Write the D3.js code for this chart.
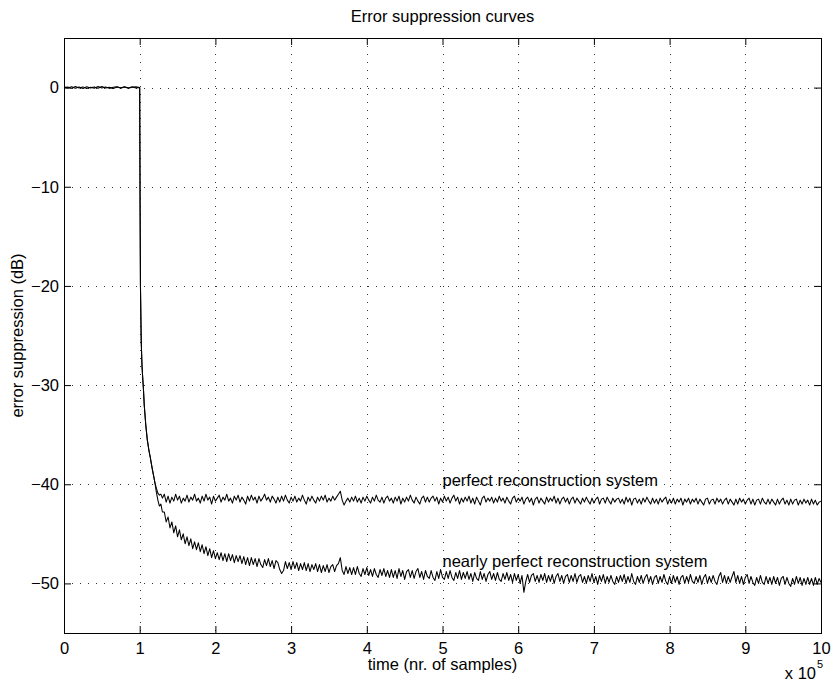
<!DOCTYPE html>
<html><head><meta charset="utf-8">
<script src="https://cdn.jsdelivr.net/npm/d3@7"></script>
<style>
body{margin:0;background:#fff}
text{font-family:"Liberation Sans",Arial,Helvetica,sans-serif;fill:#000}
</style>
</head><body>
<svg id="chart" width="832" height="685"></svg>
<script>
// ---- data (time in units of 1e5 samples, values in dB) ----
const xTicks = [0,1,2,3,4,5,6,7,8,9,10];
const yTicks = [0,-10,-20,-30,-40,-50];
const titleText = "Error suppression curves";
const xLabelText = "time (nr. of samples)";
const yLabelText = "error suppression (dB)";
const seriesNames = ["perfect reconstruction system","nearly perfect reconstruction system"];

const time = [
0,0.05,0.1,0.15,0.2,0.25,0.3,0.35,0.4,0.45,0.5,0.55,0.6,0.65,0.7,0.75,0.8,0.85,0.9,0.95,1.0,
1.005,1.01,1.02,1.03,1.04,1.05,1.06,1.08,1.1,1.12,1.14,1.16,1.18,1.2,1.22,1.24,1.26,1.28,1.3,
1.325,1.35,1.375,1.4,1.425,1.45,1.475,1.5,1.525,1.55,1.575,1.6,1.625,1.65,1.675,1.7,1.725,1.75,1.775,1.8,
1.825,1.85,1.875,1.9,1.925,1.95,1.975,2,2.025,2.05,2.075,2.1,2.125,2.15,2.175,2.2,2.225,2.25,2.275,2.3,
2.325,2.35,2.375,2.4,2.425,2.45,2.475,2.5,2.525,2.55,2.575,2.6,2.625,2.65,2.675,2.7,2.725,2.75,2.775,2.8,
2.825,2.85,2.875,2.9,2.925,2.95,2.975,3,3.025,3.05,3.075,3.1,3.125,3.15,3.175,3.2,3.225,3.25,3.275,3.3,
3.325,3.35,3.375,3.4,3.425,3.45,3.475,3.5,3.525,3.55,3.575,3.6,3.625,3.65,3.675,3.7,3.725,3.75,3.775,3.8,
3.825,3.85,3.875,3.9,3.925,3.95,3.975,4,4.025,4.05,4.075,4.1,4.125,4.15,4.175,4.2,4.225,4.25,4.275,4.3,
4.325,4.35,4.375,4.4,4.425,4.45,4.475,4.5,4.525,4.55,4.575,4.6,4.625,4.65,4.675,4.7,4.725,4.75,4.775,4.8,
4.825,4.85,4.875,4.9,4.925,4.95,4.975,5,5.025,5.05,5.075,5.1,5.125,5.15,5.175,5.2,5.225,5.25,5.275,5.3,
5.325,5.35,5.375,5.4,5.425,5.45,5.475,5.5,5.525,5.55,5.575,5.6,5.625,5.65,5.675,5.7,5.725,5.75,5.775,5.8,
5.825,5.85,5.875,5.9,5.925,5.95,5.975,6,6.025,6.05,6.075,6.1,6.125,6.15,6.175,6.2,6.225,6.25,6.275,6.3,
6.325,6.35,6.375,6.4,6.425,6.45,6.475,6.5,6.525,6.55,6.575,6.6,6.625,6.65,6.675,6.7,6.725,6.75,6.775,6.8,
6.825,6.85,6.875,6.9,6.925,6.95,6.975,7,7.025,7.05,7.075,7.1,7.125,7.15,7.175,7.2,7.225,7.25,7.275,7.3,
7.325,7.35,7.375,7.4,7.425,7.45,7.475,7.5,7.525,7.55,7.575,7.6,7.625,7.65,7.675,7.7,7.725,7.75,7.775,7.8,
7.825,7.85,7.875,7.9,7.925,7.95,7.975,8,8.025,8.05,8.075,8.1,8.125,8.15,8.175,8.2,8.225,8.25,8.275,8.3,
8.325,8.35,8.375,8.4,8.425,8.45,8.475,8.5,8.525,8.55,8.575,8.6,8.625,8.65,8.675,8.7,8.725,8.75,8.775,8.8,
8.825,8.85,8.875,8.9,8.925,8.95,8.975,9,9.025,9.05,9.075,9.1,9.125,9.15,9.175,9.2,9.225,9.25,9.275,9.3,
9.325,9.35,9.375,9.4,9.425,9.45,9.475,9.5,9.525,9.55,9.575,9.6,9.625,9.65,9.675,9.7,9.725,9.75,9.775,9.8,
9.825,9.85,9.875,9.9,9.925,9.95,9.975,10
];

const perfect = [
0,0.05,-0.08,0.1,-0.05,0.07,-0.1,0.04,-0.06,0.1,-0.04,0.06,-0.08,0.03,0.08,-0.07,0.05,-0.03,0.09,-0.05,0,
-12,-20,-25.5,-28,-29.3,-30.5,-32,-34,-35.5,-36.5,-37.3,-38.2,-39,-39.8,-40.4,-40.9,-41.1,-41,-41.4,
-41.0,-41.8,-41.2,-41.9,-41.3,-41.7,-41.0,-41.6,-41.2,-41.9,-41.4,-41.7,-41.1,-41.8,-41.3,-41.6,-41.0,-41.7,-41.4,-41.9,
-41.2,-41.7,-41.0,-41.6,-41.3,-42.0,-41.2,-41.7,-41.4,-41.1,-41.8,-41.3,-41.6,-41.0,-41.7,-41.4,-41.9,-41.2,-41.6,-41.1,
-41.8,-41.3,-41.6,-42.0,-41.2,-41.7,-41.1,-41.6,-41.3,-41.9,-41.2,-41.7,-41.4,-41.0,-41.6,-41.3,-41.8,-41.2,-41.5,-41.9,
-41.3,-41.8,-41.2,-41.7,-41.1,-41.6,-41.9,-41.3,-41.7,-41.2,-41.8,-41.4,-41.7,-41.1,-41.6,-42.0,-41.3,-41.7,-41.2,-41.6,
-41.9,-41.3,-41.7,-41.2,-41.6,-41.1,-41.8,-41.4,-41.7,-41.2,-41.6,-41.3,-41.0,-40.7,-41.6,-42.1,-41.7,-41.4,-41.8,-41.3,
-41.7,-41.2,-41.8,-41.4,-41.9,-41.3,-41.7,-41.2,-41.6,-41.9,-41.3,-41.7,-41.1,-41.6,-41.8,-41.3,-41.9,-41.4,-41.2,-41.7,
-41.4,-41.9,-41.3,-41.7,-41.2,-42.0,-41.4,-41.8,-41.3,-41.7,-41.1,-41.6,-41.9,-41.3,-41.7,-42.0,-41.4,-41.2,-41.8,-41.3,
-41.8,-41.4,-41.2,-41.7,-41.3,-42.0,-41.4,-41.8,-41.2,-41.7,-41.3,-41.9,-41.4,-41.1,-41.7,-41.3,-42.0,-41.4,-41.8,-41.3,
-41.7,-41.2,-41.9,-41.4,-42.0,-41.3,-41.7,-42.1,-41.4,-41.2,-41.8,-41.4,-41.7,-41.3,-41.9,-41.4,-41.8,-41.2,-41.7,-41.4,
-41.9,-41.3,-41.7,-42.0,-41.4,-41.2,-41.8,-41.4,-41.7,-41.3,-42.0,-41.5,-41.3,-41.8,-41.4,-42.1,-41.5,-41.3,-41.9,-41.4,
-41.7,-42.0,-41.3,-41.8,-41.4,-41.7,-41.2,-41.9,-41.4,-42.0,-41.5,-41.3,-41.8,-41.4,-42.0,-41.5,-41.3,-41.9,-41.4,-41.7,
-42.0,-41.4,-41.8,-41.3,-41.7,-42.0,-41.4,-41.9,-41.5,-41.3,-42.0,-41.5,-41.4,-41.9,-41.3,-41.7,-42.0,-41.4,-41.8,-41.5,
-41.4,-41.9,-41.5,-42.0,-41.3,-41.8,-41.4,-42.1,-41.5,-41.4,-41.9,-41.5,-42.0,-41.4,-41.8,-41.3,-41.7,-42.0,-41.4,-41.9,
-41.5,-42.0,-41.4,-41.8,-41.5,-41.3,-42.0,-41.5,-41.9,-41.4,-42.0,-41.5,-41.8,-41.4,-42.1,-41.5,-41.8,-41.4,-42.0,-41.5,
-41.8,-41.4,-42.0,-41.5,-41.8,-42.1,-41.5,-41.4,-42.0,-41.6,-41.5,-42.0,-41.4,-41.8,-41.5,-42.0,-41.6,-41.4,-42.0,-41.5,
-41.8,-42.1,-41.5,-42.0,-41.4,-41.8,-41.5,-42.0,-41.6,-41.4,-42.0,-41.5,-42.1,-41.6,-41.5,-42.0,-41.4,-41.8,-42.0,-41.5,
-42.0,-41.5,-41.8,-42.1,-41.5,-42.0,-41.6,-41.4,-42.0,-41.6,-42.1,-41.5,-42.0,-41.6,-41.5,-42.1,-41.6,-42.0,-41.5,-41.9,
-41.6,-42.1,-41.5,-42.0,-41.6,-42.1,-41.8,-41.7
];

const nearlyPerfect = [
0.06,-0.04,0.09,-0.07,0.05,-0.1,0.08,-0.03,0.07,-0.06,0.1,-0.05,0.04,-0.09,0.06,-0.02,0.08,-0.06,0.03,0.07,0,
-12,-20,-25.5,-28,-29.3,-30.5,-32,-34,-35.5,-36.5,-37.3,-38.2,-39,-39.8,-40.8,-41.6,-42.2,-42,-42.8,
-42.8,-43.8,-43.3,-44.4,-43.8,-44.9,-44.2,-45.3,-44.6,-45.6,-45.0,-46.0,-45.3,-46.2,-45.5,-46.5,-45.8,-46.6,-45.9,-46.8,
-46.1,-47.0,-46.3,-47.2,-46.5,-47.4,-46.7,-47.5,-46.9,-47.6,-46.9,-47.7,-47.0,-47.8,-47.0,-47.7,-47.1,-47.9,-47.2,-47.8,
-47.2,-48.0,-47.3,-48.1,-47.4,-48.2,-47.4,-48.1,-47.5,-48.3,-47.5,-48.1,-48.4,-47.6,-48.2,-47.5,-48.3,-47.7,-48.5,-47.7,
-47.9,-48.6,-49.0,-48.7,-47.8,-48.5,-47.9,-48.6,-47.8,-48.5,-47.9,-48.7,-48.0,-48.6,-47.9,-48.7,-48.0,-48.8,-48.1,-48.6,
-48.0,-48.8,-48.1,-48.9,-48.2,-48.8,-48.1,-48.9,-48.3,-48.1,-48.8,-48.2,-48.0,-47.4,-48.7,-49.1,-48.3,-49.0,-48.4,-49.1,
-48.4,-49.1,-48.3,-49.0,-49.3,-48.5,-49.1,-48.4,-49.2,-48.6,-49.3,-48.5,-49.1,-49.4,-48.6,-49.2,-48.5,-49.3,-48.7,-49.4,
-48.6,-49.4,-48.7,-49.5,-48.5,-49.3,-48.7,-49.6,-48.8,-48.6,-49.4,-48.7,-49.5,-48.8,-48.5,-49.4,-48.8,-49.6,-48.7,-49.3,
-49.5,-48.7,-49.4,-49.7,-48.8,-49.5,-48.6,-49.4,-49.6,-48.8,-49.5,-48.7,-49.4,-49.7,-48.9,-49.5,-48.7,-49.6,-48.9,-49.5,
-48.8,-49.6,-49.0,-49.8,-48.9,-49.5,-49.7,-48.8,-49.6,-49.0,-49.8,-49.1,-48.8,-49.6,-49.0,-49.7,-48.9,-49.6,-49.8,-49.0,
-49.6,-48.9,-49.7,-49.1,-49.9,-49.0,-49.7,-49.1,-50.0,-49.2,-50.9,-49.8,-49.1,-49.9,-49.2,-49.0,-49.8,-49.2,-49.9,-49.1,
-49.7,-49.0,-49.9,-49.2,-49.8,-49.1,-50.0,-49.3,-49.0,-49.8,-49.2,-50.0,-49.3,-49.1,-49.9,-49.2,-49.8,-49.0,-49.9,-49.3,
-49.1,-49.9,-49.3,-50.0,-49.2,-49.8,-49.0,-49.9,-49.3,-50.1,-49.2,-49.8,-49.1,-50.0,-49.3,-49.9,-49.2,-49.8,-50.1,-49.3,
-49.9,-49.2,-49.8,-49.1,-50.0,-49.3,-49.9,-49.0,-49.8,-50.1,-49.3,-49.9,-49.2,-50.0,-49.4,-49.1,-49.9,-49.3,-50.1,-49.4,
-49.2,-50.0,-49.3,-49.9,-49.1,-49.8,-50.1,-49.3,-50.0,-49.2,-49.9,-49.3,-50.1,-49.4,-49.2,-50.0,-49.3,-49.9,-49.1,-49.8,
-50.0,-49.3,-49.9,-49.2,-50.1,-49.4,-49.1,-50.0,-49.3,-49.9,-49.2,-49.8,-50.1,-49.3,-48.9,-49.9,-49.2,-50.0,-49.3,-49.9,
-49.3,-48.8,-49.9,-49.2,-50.0,-49.3,-50.1,-49.4,-49.1,-50.0,-49.3,-49.9,-50.2,-49.4,-50.0,-49.2,-49.9,-50.1,-49.3,-50.0,
-49.4,-50.1,-49.3,-50.0,-49.4,-50.2,-49.5,-49.3,-50.1,-49.4,-50.0,-50.3,-49.5,-50.1,-49.3,-50.0,-49.4,-50.2,-49.5,-50.1,
-49.4,-50.1,-49.5,-50.2,-49.4,-50.1,-49.5,-49.9
];

// annotation anchor positions (data units)
const labelX = [5, 5];
const labelY = [-40.2, -48.3];

// ---- layout ----
const margin = {left:64, top:38, right:11, bottom:52};
const W = 832, H = 685;
const iw = W - margin.left - margin.right;
const ih = H - margin.top - margin.bottom;
const fs = 16.5;

const svg = d3.select("#chart");
const g = svg.append("g").attr("transform", `translate(${margin.left},${margin.top})`);

const x = d3.scaleLinear().domain([0,10]).range([0, iw]);
const y = d3.scaleLinear().domain([-55,5]).range([ih, 0]);

// grid
const grid = g.append("g").attr("stroke","#333").attr("stroke-width",1).attr("stroke-dasharray","1,7");
grid.selectAll("line.v").data(xTicks.filter(d=>d>0 && d<10)).enter().append("line")
  .attr("x1",d=>Math.round(x(d))+0.5).attr("x2",d=>Math.round(x(d))+0.5)
  .attr("y1",0).attr("y2",ih);
grid.selectAll("line.h").data(yTicks).enter().append("line")
  .attr("y1",d=>Math.round(y(d))+0.5).attr("y2",d=>Math.round(y(d))+0.5)
  .attr("x1",0).attr("x2",iw);

// axes (ticks inward, on all sides)
const tl = 7;
const fmtY = d => d < 0 ? "\u2212" + Math.abs(d) : String(d);
const axB = g.append("g").attr("transform",`translate(0,${ih})`)
  .call(d3.axisBottom(x).tickValues(xTicks).tickSizeInner(-tl).tickSizeOuter(0).tickPadding(9).tickFormat(d3.format("d")));
const axT = g.append("g")
  .call(d3.axisTop(x).tickValues(xTicks).tickSizeInner(-tl).tickSizeOuter(0).tickFormat(""));
const axL = g.append("g")
  .call(d3.axisLeft(y).tickValues(yTicks).tickSizeInner(-tl).tickSizeOuter(0).tickPadding(5).tickFormat(fmtY));
const axR = g.append("g").attr("transform",`translate(${iw},0)`)
  .call(d3.axisRight(y).tickValues(yTicks).tickSizeInner(-tl).tickSizeOuter(0).tickFormat(""));
[axB,axT,axL,axR].forEach(a=>{
  a.select(".domain").remove();
  a.selectAll("line").attr("stroke","#000");
  a.selectAll("text").style("font-size",fs+"px").attr("fill","#000");
});

// box
g.append("rect").attr("x",0.5).attr("y",0.5).attr("width",iw).attr("height",ih)
  .attr("fill","none").attr("stroke","#000").attr("stroke-width",1);

// curves
const rows = time.map((t,i)=>({t, p:perfect[i], n:nearlyPerfect[i]}));
const lineN = d3.line().defined(d=>d.n!=null).x(d=>x(d.t)).y(d=>y(d.n));
const lineP = d3.line().defined(d=>d.p!=null).x(d=>x(d.t)).y(d=>y(d.p));
g.append("path").datum(rows).attr("d",lineN).attr("fill","none").attr("stroke","#000").attr("stroke-width",1.05).attr("stroke-linejoin","round");
g.append("path").datum(rows).attr("d",lineP).attr("fill","none").attr("stroke","#000").attr("stroke-width",1.05).attr("stroke-linejoin","round");

// annotations
seriesNames.forEach((s,i)=>{
  g.append("text").attr("x",x(labelX[i])).attr("y",y(labelY[i])).style("font-size",fs+"px").text(s);
});

// title & labels
svg.append("text").attr("x",margin.left+iw/2).attr("y",22).attr("text-anchor","middle").style("font-size",fs+"px").text(titleText);
svg.append("text").attr("x",margin.left+iw/2).attr("y",670).attr("text-anchor","middle").style("font-size",fs+"px").text(xLabelText);
svg.append("text").attr("transform",`translate(23,${margin.top+ih/2}) rotate(-90)`).attr("text-anchor","middle").style("font-size",fs+"px").text(yLabelText);

// exponent
svg.append("text").attr("x",margin.left+iw-5).attr("y",679).attr("text-anchor","end").style("font-size",fs+"px").text("x 10");
svg.append("text").attr("x",margin.left+iw-4).attr("y",668).style("font-size","11px").text("5");
</script>
</body></html>
